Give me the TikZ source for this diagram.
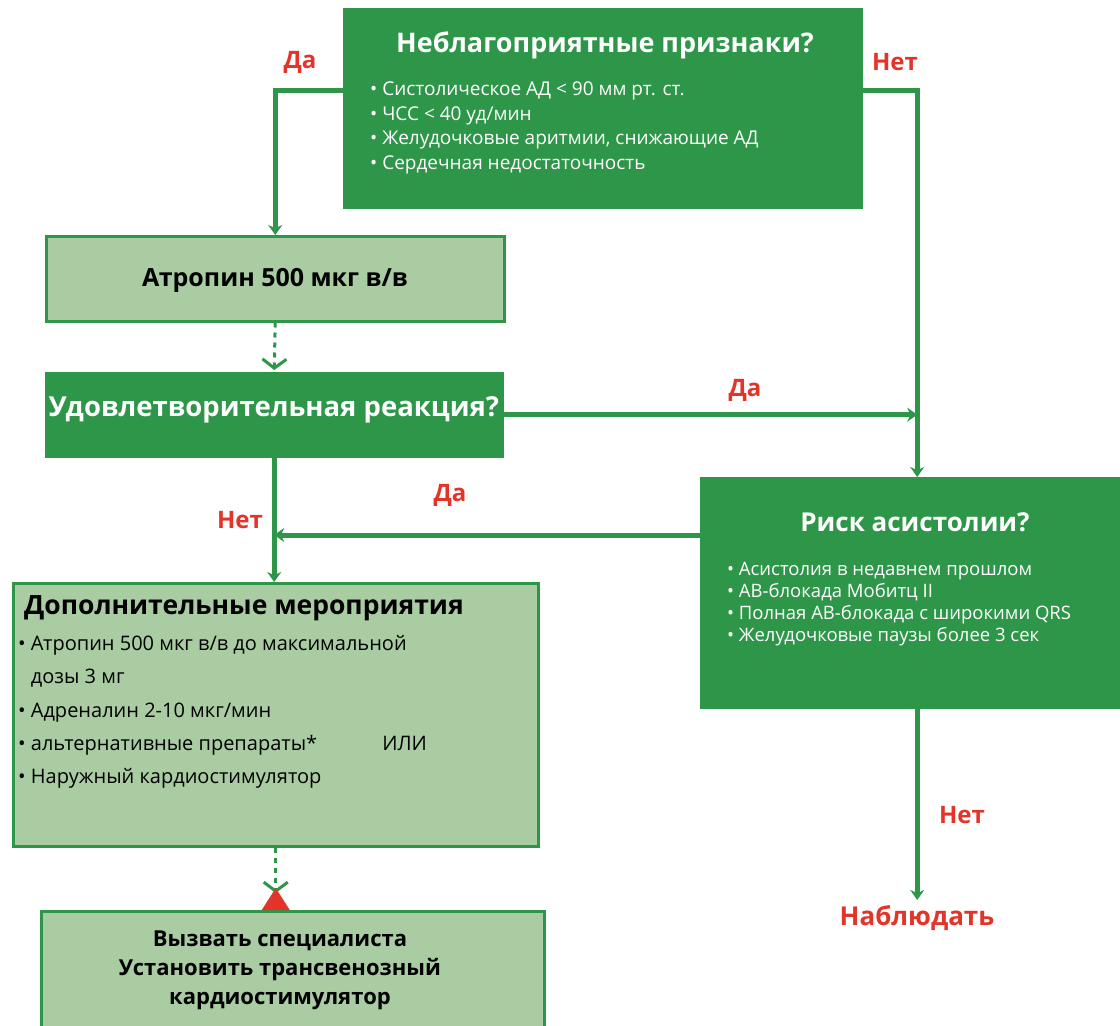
\documentclass[tikz,border=0pt]{standalone}
\usepackage{fontspec}
\setmainfont{Open Sans}
\usetikzlibrary{arrows.meta,calc,positioning}
\definecolor{dkgreen}{RGB}{46,150,72}
\definecolor{ltgreen}{RGB}{170,204,163}
\definecolor{lblred}{RGB}{226,52,40}
\tikzset{
  darkbox/.style={rectangle, fill=dkgreen, draw=dkgreen, inner sep=0pt, anchor=north west},
  lightbox/.style={rectangle, fill=ltgreen, draw=dkgreen, line width=2.5pt, inner sep=0pt, anchor=north west},
  lbl/.style={text=lblred, font=\bfseries\fontsize{24}{28}\selectfont},
  flow/.style={draw=dkgreen, line width=5pt, -{Stealth[length=10pt,width=14pt]}},
  dashflow/.style={draw=dkgreen, line width=3pt, dash pattern=on 5pt off 5pt, -{Straight Barb[length=9pt,width=24pt,line width=3pt]}},
  whitelist/.style={text=white, align=left, anchor=west, inner sep=0pt, font=\fontsize{19}{24.7}\selectfont},
  blacklist/.style={text=black, align=left, anchor=west, inner sep=0pt, font=\fontsize{20}{33.2}\selectfont}
}
\begin{document}
\begin{tikzpicture}[x=1pt,y=-1pt]
	\useasboundingbox[fill=white] (0,0) rectangle (1120,1026);

	% boxes
	\node (signs)	at (343,8)	[darkbox, minimum width=519, minimum height=200] {};
	\node (atropine)	at (45,235)	[lightbox, minimum width=458, minimum height=85] {};
	\node (react)	at (45,372)	[darkbox, minimum width=458, minimum height=85] {};
	\node (risk)	at (700,477)	[darkbox, minimum width=434, minimum height=231] {};
	\node (extra)	at (12,582)	[lightbox, minimum width=525, minimum height=263] {};
	\node (final)	at (40,910)	[lightbox, minimum width=503, minimum height=140] {};

	% texts in the boxes
	\node (signstitle)	at (605,45) [text=white, font=\bfseries\fontsize{27}{30}\selectfont] {Неблагоприятные признаки?};
	\node (signslist)	at (370,128)	[whitelist] {• Систолическое АД < 90 мм рт. ст.\\ • ЧСС < 40 уд/мин\\ • Желудочковые аритмии, снижающие АД\\ • Сердечная недостаточность};
	\node (atropinetext)	at (275,280) [font=\bfseries\fontsize{25}{28}\selectfont] {Атропин 500 мкг в/в};
	\node (reacttext)	at (274,410) [text=white, font=\bfseries\fontsize{27.5}{30}\selectfont] {Удовлетворительная реакция?};
	\node (risktitle)	at (915,522)	[text=white, font=\bfseries\fontsize{26}{30}\selectfont] {Риск асистолии?};
	\node (risklist)	at (727,604)	[whitelist, font=\fontsize{18.5}{22}\selectfont] {• Асистолия в недавнем прошлом\\ • АВ-блокада Мобитц II\\ • Полная АВ-блокада с широкими QRS\\ • Желудочковые паузы более 3 сек};
	\node (extratitle)	at (24,608)	[anchor=west, inner sep=0pt, font=\bfseries\fontsize{26.5}{30}\selectfont] {Дополнительные мероприятия};
	\node (extralist)	at (18,712)	[blacklist] {• Атропин 500 мкг в/в до максимальной\\ \phantom{•} дозы 3 мг\\ • Адреналин 2-10 мкг/мин\\ • альтернативные препараты* \qquad\quad ИЛИ\\ • Наружный кардиостимулятор};
	\node (finaltext)	at (280,970)	[align=center, font=\bfseries\fontsize{22}{29}\selectfont] {Вызвать специалиста\\ Установить трансвенозный\\ кардиостимулятор};
	\node (observe)	at (917,918)	[lbl, font=\bfseries\fontsize{26}{30}\selectfont] {Наблюдать};

	% free ends
	\coordinate (riskout)	at ($(risk.north west)+(0,58)$);
	\coordinate (merge)	at (riskout -| react.south);
	\coordinate (join)	at (react.east -| risk.north);
	\coordinate (callpt)	at (final.north -| extra.south);
	\coordinate (calltip)	at ($(callpt)+(0,-17)$);

	% connectors
	\draw[flow] ($(signs.north west)+(0,82)$) -| (atropine.north);
	\draw[flow] ($(signs.north east)+(0,82)$) -| (risk.north);
	\draw[dashflow] (atropine.south) -- ($(react.north)+(0,-2)$);
	\draw[flow] (react.east) -- (join);
	\draw[flow] (riskout) -- (merge);
	\draw[flow] (react.south) -- (react.south |- extra.north);
	\draw[dashflow] (extra.south) -- (calltip);
	\fill[lblred] ($(callpt)+(-14,0)$) -- ($(callpt)+(0,-22)$) -- ($(callpt)+(14,0)$) -- cycle;
	\draw[flow] (risk.south) -- ($(risk.south |- observe.north)+(0,-2)$);

	% labels
	\node (signsyes)	at (300,62)	[lbl] {Да};
	\node (signsno)	at (895,62)	[lbl] {Нет};
	\node (reactyes)	at (745,390)	[lbl] {Да};
	\node (reactno)	at (240,520)	[lbl] {Нет};
	\node (riskyes)	at (450,495)	[lbl] {Да};
	\node (riskno)	at (962,815)	[lbl] {Нет};
\end{tikzpicture}
\end{document}
